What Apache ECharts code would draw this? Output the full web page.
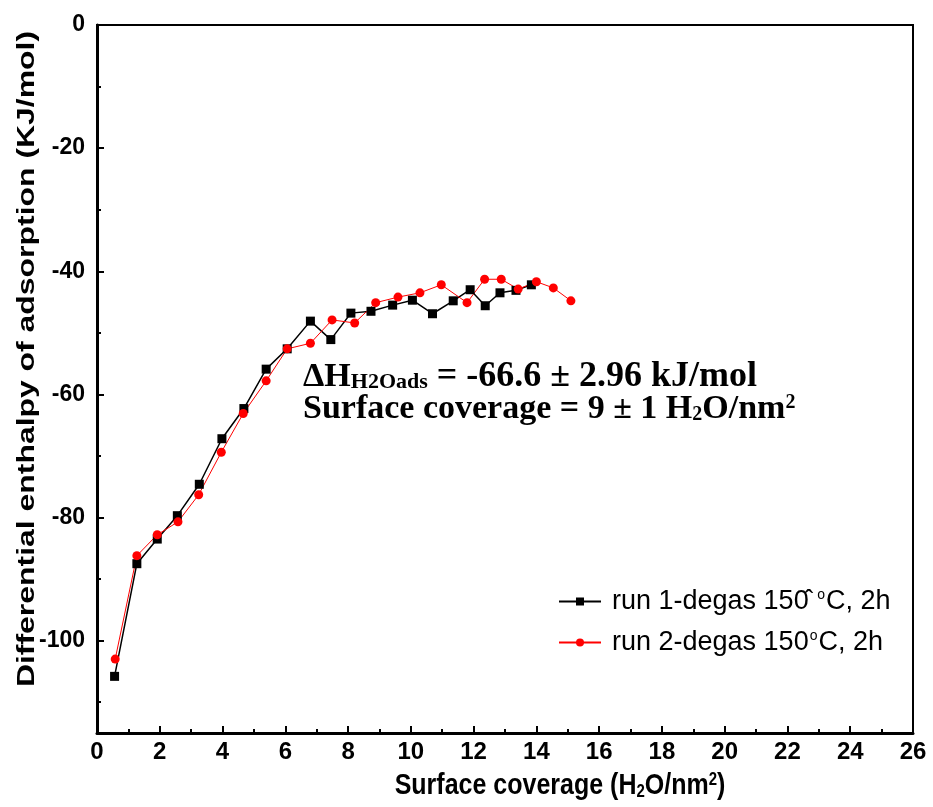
<!DOCTYPE html>
<html>
<head>
<meta charset="utf-8">
<script src="https://cdn.jsdelivr.net/npm/echarts@6/dist/echarts.min.js"></script>
<style>html,body{margin:0;padding:0;background:#fff;}#c{width:933px;height:807px;}</style>
</head>
<body>
<div id="c"></div>
<script>
// Data
const run1X = [0.56,1.27,1.92,2.56,3.26,3.98,4.68,5.39,6.06,6.80,7.45,8.09,8.73,9.42,10.05,10.69,11.35,11.89,12.37,12.84,13.35,13.84];
const run1Y = [-105.8,-87.5,-83.5,-79.7,-74.6,-67.2,-62.3,-55.9,-52.6,-48.1,-51.1,-46.8,-46.5,-45.5,-44.7,-46.9,-44.8,-43.0,-45.6,-43.5,-43.1,-42.2];
const run2X = [0.58,1.27,1.92,2.58,3.24,3.96,4.66,5.39,6.06,6.80,7.49,8.21,8.88,9.59,10.29,10.97,11.79,12.35,12.88,13.42,14.00,14.54,15.10];
const run2Y = [-103.0,-86.2,-82.8,-80.7,-76.3,-69.4,-63.1,-57.8,-52.6,-51.7,-47.9,-48.4,-45.1,-44.2,-43.5,-42.2,-45.1,-41.3,-41.3,-42.9,-41.7,-42.7,-44.8];
const seriesNames = ['run 1-degas 150\u0302 {sup|o}C, 2h', 'run 2-degas 150{sup|o}C, 2h'];
const yMajorTicks = [0,-20,-40,-60,-80,-100];
const yMinorTicks = [-10,-30,-50,-70,-90,-110];
const xTitle = 'Surface coverage (H{sub|2}O/nm{sup|2})';
const yTitle = 'Differential enthalpy of adsorption (KJ/mol)';
const noteText = '{b|\u0394H}{s|H2Oads}{c| = -66.6 \u00b1 2.96 kJ/mol}\n{b|Surface coverage = 9 \u00b1 1 H}{s2|2}{b|O/nm}{p|2}';

const pair = (xs, ys) => xs.map((x, i) => [x, ys[i]]);
const SANS = "'Liberation Sans', Arial, sans-serif";
const SERIF = "'Liberation Serif', 'Times New Roman', serif";

const chart = echarts.init(document.getElementById('c'), null, {renderer: 'canvas'});
chart.setOption({
  backgroundColor: '#fff',
  animation: false,
  grid: {left: 97, right: 20, top: 25, bottom: 74, show: true, borderColor: '#000', borderWidth: 2, backgroundColor: 'transparent'},
  legend: {
    orient: 'vertical', left: 553, top: 583, itemGap: 14, itemWidth: 42, itemHeight: 10,
    data: ['r1', 'r2'],
    formatter: function (n) { return n === 'r1' ? seriesNames[0] : seriesNames[1]; },
    textStyle: {fontFamily: SANS, fontSize: 27, color: '#000', padding: [0, 0, 0, 6],
      rich: {sup: {fontFamily: SANS, fontSize: 14, color: '#000', verticalAlign: 'top', lineHeight: 16, padding: [0, 1, 0, 1]}}}
  },
  xAxis: {
    type: 'value', min: 0, max: 26, interval: 2,
    axisLine: {show: true, onZero: false, lineStyle: {color: '#000', width: 3}},
    axisTick: {show: true, inside: true, length: 7, lineStyle: {color: '#000', width: 2}},
    minorTick: {show: true, splitNumber: 2, length: 4, lineStyle: {color: '#000', width: 2}},
    splitLine: {show: false}, minorSplitLine: {show: false},
    axisLabel: {color: '#000', fontFamily: SANS, fontWeight: 'bold', fontSize: 24, margin: 7}
  },
  yAxis: [{
    type: 'value', min: -115, max: 0,
    axisLine: {show: true, onZero: false, lineStyle: {color: '#000', width: 3}},
    axisTick: {show: true, inside: true, length: 7, customValues: yMajorTicks, lineStyle: {color: '#000', width: 2}},
    axisLabel: {customValues: yMajorTicks, color: '#000', fontFamily: SANS, fontWeight: 'bold', fontSize: 23, margin: 12},
    splitLine: {show: false}
  }, {
    type: 'value', min: -115, max: 0, position: 'left',
    axisLine: {show: false},
    axisTick: {show: true, inside: true, length: 4, customValues: yMinorTicks, lineStyle: {color: '#000', width: 2}},
    axisLabel: {show: false}, splitLine: {show: false}
  }],
  graphic: [{
    type: 'text', left: 303, top: 359,
    style: {
      text: noteText,
      rich: {
        b: {fontFamily: SERIF, fontWeight: 'bold', fontSize: 34, lineHeight: 32, fill: '#000'},
        c: {fontFamily: SERIF, fontWeight: 'bold', fontSize: 36, lineHeight: 32, fill: '#000'},
        s: {fontFamily: SERIF, fontWeight: 'bold', fontSize: 22, lineHeight: 16, verticalAlign: 'bottom', fill: '#000'},
        s2: {fontFamily: SERIF, fontWeight: 'bold', fontSize: 20, lineHeight: 16, verticalAlign: 'bottom', fill: '#000'},
        p: {fontFamily: SERIF, fontWeight: 'bold', fontSize: 20, lineHeight: 20, verticalAlign: 'top', fill: '#000'}
      }
    }
  }, {
    type: 'text', x: 27, y: 359, rotation: Math.PI / 2, scaleX: 1.33,
    style: {text: yTitle, fontFamily: SANS, fontWeight: 'bold', fontSize: 24, fill: '#000', align: 'center', verticalAlign: 'middle'}
  }, {
    type: 'text', x: 560, y: 786, scaleY: 1.2,
    style: {
      text: xTitle, fontFamily: SANS, fontWeight: 'bold', fontSize: 25, fill: '#000', align: 'center', verticalAlign: 'middle',
      rich: {
        sub: {fontFamily: SANS, fontWeight: 'bold', fontSize: 15, fill: '#000', verticalAlign: 'bottom', lineHeight: 10},
        sup: {fontFamily: SANS, fontWeight: 'bold', fontSize: 15, fill: '#000', verticalAlign: 'top', lineHeight: 12}
      }
    }
  }],
  series: [{
    name: 'r1', type: 'line', yAxisIndex: 0,
    data: pair(run1X, run1Y),
    symbol: 'rect', symbolSize: 9,
    itemStyle: {color: '#000'},
    lineStyle: {color: '#000', width: 1.5}
  }, {
    name: 'r2', type: 'line', yAxisIndex: 0,
    data: pair(run2X, run2Y),
    symbol: 'circle', symbolSize: 9,
    itemStyle: {color: '#ff0000'},
    lineStyle: {color: '#ff0000', width: 1}
  }]
});
</script>
</body>
</html>
